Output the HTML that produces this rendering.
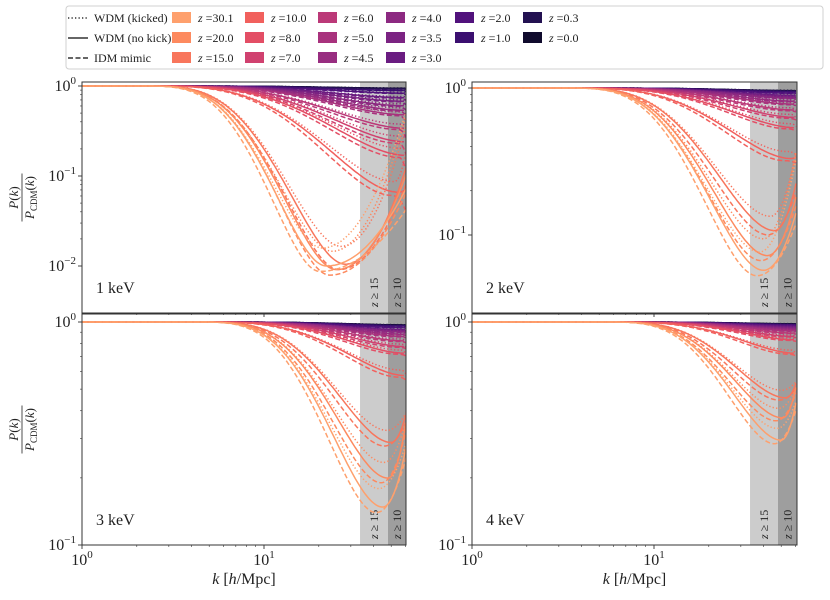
<!DOCTYPE html>
<html><head><meta charset="utf-8"><style>
body{margin:0;background:#fff;}
svg{display:block;font-family:"Liberation Serif",serif;}
</style></head><body>
<svg id="fig" width="830" height="600" viewBox="0 0 830 600" xmlns="http://www.w3.org/2000/svg"></svg>
<script>
// ---- data ----
const redshifts = [30.1,20.0,15.0,10.0,8.0,7.0,6.0,5.0,4.5,4.0,3.5,3.0,2.0,1.0,0.3,0.0];
const colors = ["#fea06d","#fd8a5f","#f8765c","#f1605d","#e34e65","#d0416f","#bb3978","#a8327d","#982d80","#8c2981","#7b2382","#6a1c81","#51127c","#3b0f70","#231151","#100b2d"];
const massLabels = ["1 keV","2 keV","3 keV","4 keV"];
const kMin1 = [22,25,28,55,60,60,60,60,60,60,60,60,60,60,60,60];
const lMin1 = [-2.0,-2.04,-1.98,-1.18,-0.77,-0.62,-0.47,-0.32,-0.27,-0.22,-0.17,-0.13,-0.08,-0.05,-0.03,-0.025];
const l601  = [-1.15,-1.0,-0.92,-1.15,-0.77,-0.62,-0.47,-0.32,-0.27,-0.22,-0.17,-0.13,-0.08,-0.05,-0.03,-0.025];
const l60Dot1=[-0.3,-0.35,-0.45,-0.75,-0.7,-0.58,-0.45,-0.3,-0.26,-0.21,-0.16,-0.12,-0.08,-0.05,-0.03,-0.025];
const kMin2 = [40,42,46,57,60,60,60,60,60,60,60,60,60,60,60,60];
const lMin2 = [-1.24,-1.14,-0.97,-0.48,-0.27,-0.2,-0.15,-0.11,-0.09,-0.07,-0.06,-0.05,-0.035,-0.025,-0.02,-0.018];
const l602  = [-0.86,-0.75,-0.66,-0.47,-0.27,-0.2,-0.15,-0.11,-0.09,-0.07,-0.06,-0.05,-0.035,-0.025,-0.02,-0.018];
const l60Dot2=[-0.5,-0.45,-0.45,-0.45,-0.26,-0.2,-0.15,-0.11,-0.09,-0.07,-0.06,-0.05,-0.035,-0.025,-0.02,-0.018];
const kMin3 = [45,48,50,60,60,60,60,60,60,60,60,60,60,60,60,60];
const lMin3 = [-0.83,-0.70,-0.54,-0.24,-0.14,-0.11,-0.085,-0.065,-0.055,-0.045,-0.04,-0.035,-0.025,-0.018,-0.015,-0.013];
const l603  = [-0.57,-0.46,-0.42,-0.24,-0.14,-0.11,-0.085,-0.065,-0.055,-0.045,-0.04,-0.035,-0.025,-0.018,-0.015,-0.013];
const l60Dot3=[-0.55,-0.45,-0.41,-0.23,-0.14,-0.11,-0.085,-0.065,-0.055,-0.045,-0.04,-0.035,-0.025,-0.018,-0.015,-0.013];
const kMin4 = [50,51,53,60,60,60,60,60,60,60,60,60,60,60,60,60];
const lMin4 = [-0.53,-0.43,-0.34,-0.14,-0.08,-0.065,-0.05,-0.04,-0.035,-0.03,-0.025,-0.02,-0.015,-0.012,-0.01,-0.008];
const l604  = [-0.37,-0.30,-0.28,-0.14,-0.08,-0.065,-0.05,-0.04,-0.035,-0.03,-0.025,-0.02,-0.015,-0.012,-0.01,-0.008];
const l60Dot4=[-0.36,-0.30,-0.27,-0.14,-0.08,-0.065,-0.05,-0.04,-0.035,-0.03,-0.025,-0.02,-0.015,-0.012,-0.01,-0.008];
const kStart = [2,3,4,5];
const bandKs = [1, 33.7, 48, 60];

const NS="http://www.w3.org/2000/svg";
const svg=document.getElementById('fig');
function mk(tag,attrs,parent){const e=document.createElementNS(NS,tag);for(const k in attrs)e.setAttribute(k,attrs[k]);(parent||svg).appendChild(e);return e;}

const panels=[
 {x0:82,x1:406,y0:82,y1:313,yRef:86,dec:90,yMin:-2.55,yMax:0.05,kmin:kMin1,lmin:lMin1,l60:l601,ldot:l60Dot1,xl:false,name:'panel-1kev'},
 {x0:472,x1:797,y0:82,y1:313,yRef:88,dec:147,yMin:-1.55,yMax:0.05,kmin:kMin2,lmin:lMin2,l60:l602,ldot:l60Dot2,xl:false,name:'panel-2kev'},
 {x0:82,x1:406,y0:314,y1:545,yRef:322,dec:223,yMin:-1,yMax:0.05,kmin:kMin3,lmin:lMin3,l60:l603,ldot:l60Dot3,xl:true,name:'panel-3kev'},
 {x0:472,x1:797,y0:314,y1:545,yRef:322,dec:223,yMin:-1,yMax:0.05,kmin:kMin4,lmin:lMin4,l60:l604,ldot:l60Dot4,xl:true,name:'panel-4kev'}
];

function curve(k,k0,km,lm,l60){
  const lk=Math.log10(k),l0=Math.log10(k0),lkm=Math.log10(km),lend=Math.log10(60);
  if(lk<=l0) return 0;
  if(lk<=lkm){const s=(lk-l0)/(lkm-l0);return lm*Math.pow(s,4)*(5-4*s);}
  const t=(lk-lkm)/(lend-lkm);return lm+(l60-lm)*t*t;
}

panels.forEach((p,pi)=>{
  const g=mk('g',{});
  
  
  const X=k=>p.x0+182*Math.log10(k);
  const Y=l=>p.yRef-p.dec*l;
  const cid='clip'+pi;
  const cp=mk('clipPath',{id:cid},g);mk('rect',{x:p.x0,y:p.y0,width:p.x1-p.x0,height:p.y1-p.y0},cp);
  const b1=mk('rect',{x:X(bandKs[1]),y:p.y0,width:X(bandKs[2])-X(bandKs[1]),height:p.y1-p.y0,fill:'#cccccc'},g);
  
  const b2=mk('rect',{x:X(bandKs[2]),y:p.y0,width:p.x1-X(bandKs[2]),height:p.y1-p.y0,fill:'#9e9e9e'},g);
  
  [[ (X(bandKs[1])+X(bandKs[2]))/2,'15'],[(X(bandKs[2])+p.x1)/2,'10']].forEach(([cx,v])=>{
    const t=mk('text',{x:0,y:0,transform:`translate(${cx+4},${p.y1-6}) rotate(-90)`,'font-size':'12',fill:'#222'},g);
    
    t.innerHTML=`<tspan font-style="italic">z</tspan> ≥ ${v}`;
  });
  const cg=mk('g',{'clip-path':`url(#${cid})`},g);
  const ks=[];for(let i=0;i<=160;i++)ks.push(Math.pow(10,1.78*i/160));
  for(let zi=redshifts.length-1;zi>=0;zi--){
    const styles=[
      {name:'solid',km:p.kmin[zi],lm:p.lmin[zi],l60:p.l60[zi],dash:''},
      {name:'dashed',km:p.kmin[zi]*0.92,lm:p.lmin[zi]*1.03,l60:p.l60[zi]*(pi===0?1.2:1.08),dash:'5,2.5'},
      {name:'dotted',km:p.kmin[zi]*0.95,lm:p.lmin[zi]*0.9,l60:p.ldot[zi],dash:'1.3,2.2'}
    ];
    styles.forEach(s=>{
      const d=ks.map((k,i)=>(i?'L':'M')+X(k).toFixed(1)+','+Y(curve(k,kStart[pi],s.km,s.lm,s.l60)).toFixed(1)).join('');
      const path=mk('path',{d,fill:'none',stroke:colors[zi],'stroke-width':1.5},cg);
      if(s.dash)path.setAttribute('stroke-dasharray',s.dash);
      
      
    });
  }
  mk('rect',{x:p.x0,y:p.y0,width:p.x1-p.x0,height:p.y1-p.y0,fill:'none',stroke:'#333','stroke-width':1},g);
  const ya=mk('g',{},g); 
  for(let d=Math.ceil(p.yMin);d<=0;d++){
    for(let m=1;m<10;m++){
      const l=d+Math.log10(m); if(l<p.yMin||l>p.yMax)continue;
      const y=Y(l); const major=m===1;
      mk('line',{x1:p.x0,x2:p.x0-(major?4:2),y1:y,y2:y,stroke:'#333','stroke-width':major?0.9:0.6},ya);
      if(major){const t=mk('text',{x:p.x0-6,y:y+5,'text-anchor':'end','font-size':'16',fill:'#222'},ya);
        t.innerHTML=`10<tspan dy="-7" font-size="11">${d===0?'0':'−'+(-d)}</tspan>`;}
    }
  }
  const xa=mk('g',{},g);
  [1,2,3,4,5,6,7,8,9,10,20,30,40,50,60].forEach(k=>{
    const x=X(k),major=(k===1||k===10);
    mk('line',{x1:x,x2:x,y1:p.y1,y2:p.y1+(major?4:2),stroke:'#333','stroke-width':major?0.9:0.6},xa);
    if(major&&p.xl){const t=mk('text',{x:x,y:p.y1+20,'text-anchor':'middle','font-size':'16',fill:'#222'},xa);
      t.innerHTML=`10<tspan dy="-7" font-size="11">${k===1?0:1}</tspan>`;}
  });
  if(p.xl){const t=mk('text',{x:(p.x0+p.x1)/2,y:584,'text-anchor':'middle','font-size':'16',fill:'#222'},g);
    
    t.innerHTML='<tspan font-style="italic">k</tspan> [<tspan font-style="italic">h</tspan>/Mpc]';}
  const ml=mk('text',{x:p.x0+14,y:p.y1-20,'font-size':'16',fill:'#222'},g);
  
  ml.textContent=massLabels[pi];
  if(pi%2===0){
    const cy=(p.y0+p.y1)/2;
    const yl=mk('g',{transform:`translate(22,${cy}) rotate(-90)`},g);
    
    const a=mk('text',{x:0,y:-4,'text-anchor':'middle','font-size':'13',fill:'#222'},yl);a.innerHTML='<tspan font-style="italic">P</tspan>(<tspan font-style="italic">k</tspan>)';
    mk('line',{x1:-24,x2:24,y1:0,y2:0,stroke:'#222','stroke-width':0.8},yl);
    const b=mk('text',{x:0,y:12,'text-anchor':'middle','font-size':'13',fill:'#222'},yl);b.innerHTML='<tspan font-style="italic">P</tspan><tspan font-size="9" dy="3">CDM</tspan><tspan dy="-3">(</tspan><tspan font-style="italic">k</tspan>)';
  }
});

const lg=mk('g',{});


mk('rect',{x:66,y:6,width:757,height:63,rx:3,fill:'#fff',stroke:'#d0d0d0','stroke-width':1},lg);
const rowsY=[18,38,58];
[['1.3,2.2','WDM (kicked)'],['','WDM (no kick)'],['5,2.5','IDM mimic']].forEach(([d,lab],i)=>{
  const e=mk('g',{},lg);
  const l=mk('line',{x1:68,x2:88,y1:rowsY[i],y2:rowsY[i],stroke:'#333','stroke-width':1.5},e);
  if(d)l.setAttribute('stroke-dasharray',d);
  const t=mk('text',{x:94,y:rowsY[i]+4,'font-size':'12',fill:'#222'},e);t.textContent=lab;
});
const colX=[172,245,318,386,455,523];
redshifts.forEach((z,i)=>{
  let col,row;
  if(i<12){col=Math.floor(i/3);row=i%3;}else{col=4+Math.floor((i-12)/2);row=(i-12)%2;}
  const e=mk('g',{},lg);
  mk('rect',{x:colX[col],y:rowsY[row]-6,width:19,height:11,fill:colors[i]},e);
  const t=mk('text',{x:colX[col]+26,y:rowsY[row]+4,'font-size':'12',fill:'#222'},e);
  t.innerHTML=`<tspan font-style="italic">z</tspan> =${z.toFixed(1)}`;
});
</script>
</body></html>
